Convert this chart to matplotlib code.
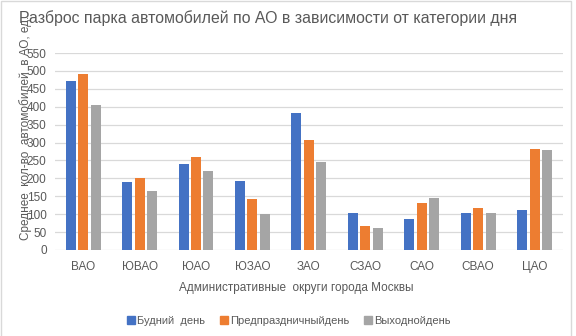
import numpy as np
import matplotlib
matplotlib.use('Agg')
import matplotlib.pyplot as plt
from matplotlib.lines import Line2D
from matplotlib.patches import Rectangle

plt.rcParams['font.family'] = ['Liberation Sans Narrow', 'Liberation Sans', 'DejaVu Sans']

districts = ['ВАО', 'ЮВАО', 'ЮАО', 'ЮЗАО', 'ЗАО', 'СЗАО', 'САО', 'СВАО', 'ЦАО']
weekday = [472, 190, 240, 193, 383, 103, 87, 103, 112]
pre_holiday = [491, 201, 260, 142, 307, 67, 131, 117, 282]
weekend = [405, 165, 221, 101, 246, 61, 145, 103, 279]
series_names = ['Будний  день', 'Предпраздничныйдень', 'Выходнойдень']
colors = ['#4472C4', '#ED7D31', '#A5A5A5']
yticks = list(range(0, 551, 50))

TEXT = '#595959'
GRID = '#D9D9D9'

fig = plt.figure(figsize=(5.76, 3.36), dpi=100)
ax = fig.add_axes([0.0955, 0.256, 0.8815, 0.586])

# рамка области диаграммы (как в Excel)
fig.patches.append(Rectangle((0.001, -0.01), 570.5 / 576, 1.0085, transform=fig.transFigure,
                             fill=False, edgecolor=GRID, linewidth=1.0))

x = np.arange(len(districts))
width = 0.177
step = 0.22
for i, (vals, c) in enumerate(zip([weekday, pre_holiday, weekend], colors)):
    ax.bar(x + (i - 1) * step, vals, width, color=c, zorder=3)

ax.set_xlim(-0.5, len(districts) - 0.5)
ax.set_ylim(0, 550)
ax.set_yticks(yticks)
ax.set_yticklabels([str(v) for v in yticks], fontsize=8.5, color=TEXT)
ax.set_xticks(x)
ax.set_xticklabels(districts, fontsize=8.5, color=TEXT)
ax.tick_params(length=0, pad=8)
ax.tick_params(axis='y', pad=6)
ax.grid(axis='y', color=GRID, linewidth=0.9, zorder=0)
for s in ax.spines.values():
    s.set_visible(False)

ax.set_xlabel('Административные  округи города Москвы', fontsize=8.5, color=TEXT)
ax.xaxis.set_label_coords(0.476, -0.165)

fig.text(0.465, 0.945, 'Разброс парка автомобилей по АО в зависимости от категории дня',
         ha='center', va='center', fontsize=11.4, color=TEXT)
fig.text(0.045, 0.285, 'Среднее  кол-во  автомобилей  в АО, ед.', rotation=90,
         ha='center', va='bottom', fontsize=8.5, color=TEXT)

handles = [Line2D([], [], marker='s', linestyle='', color=c, markersize=5.5) for c in colors]
fig.legend(handles, series_names, loc='center', bbox_to_anchor=(0.5, 0.045), ncol=3,
           frameon=False, fontsize=8, labelcolor=TEXT, handletextpad=0.05,
           columnspacing=1.2, handlelength=1.0)

fig.savefig('out.png', dpi=100)
